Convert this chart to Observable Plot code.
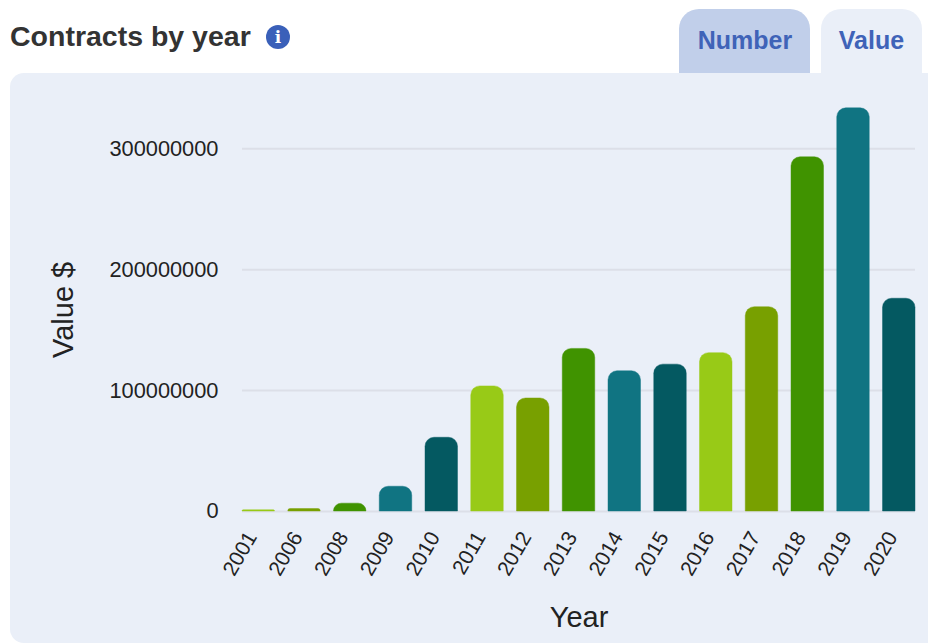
<!DOCTYPE html>
<html>
<head>
<meta charset="utf-8">
<script src="https://cdn.jsdelivr.net/npm/d3@7"></script>
<script src="https://cdn.jsdelivr.net/npm/@observablehq/plot@0.6"></script>
<style>
  html, body { margin: 0; padding: 0; background: #fff; }
  body { width: 928px; height: 643px; overflow: hidden; position: relative; font-family: "Liberation Sans", Arial, sans-serif; }
  .title { position: absolute; left: 10px; top: 20px; font-size: 28.5px; line-height: 32px; font-weight: 700; color: #333; }
  .info { position: absolute; left: 266px; top: 25px; width: 24px; height: 24px; border-radius: 50%; background: #3a60b9; color: #fff; font: 700 17px/24px "DejaVu Serif", serif; text-align: center; }
  .tab { position: absolute; top: 9px; height: 64px; box-sizing: border-box; padding-top: 15px; border-radius: 20px 20px 0 0; text-align: center; font-size: 25px; line-height: 32px; font-weight: 700; color: #3f63b8; }
  .tab.number { left: 679px; width: 131px; background: #c1cfea; padding-left: 1px; }
  .tab.value { left: 821px; width: 101px; background: #eaeff8; }
  .panel { position: absolute; left: 10px; top: 73px; width: 918px; height: 570px; background: #eaeff8; border-radius: 14px 0 0 14px; }
  #chart { position: absolute; left: 0; top: 73px; }
  #chart svg { background: transparent; display: block; }
</style>
</head>
<body>
<div class="title">Contracts by year</div>
<div class="info">i</div>
<div class="tab number">Number</div>
<div class="tab value">Value</div>
<div class="panel"></div>
<div id="chart"></div>
<script>
// Contract value per year, in dollars
const years = ["2001", "2006", "2008", "2009", "2010", "2011", "2012", "2013", "2014", "2015", "2016", "2017", "2018", "2019", "2020"];
const values = [1000000, 2000000, 6500000, 20500000, 61000000, 103500000, 93500000, 134500000, 116000000, 121500000, 131000000, 169000000, 293000000, 333500000, 176000000];
const palette = ["#98ca17", "#78a000", "#409300", "#107482", "#045961"];
const yTicks = [0, 100000000, 200000000, 300000000];

const rows = years.map((year, i) => ({year, value: values[i]}));
const gridColor = "#dcdfe8";

const chart = Plot.plot({
  width: 928,
  height: 570,
  marginLeft: 242,
  marginRight: 13,
  marginTop: 27,
  marginBottom: 132,
  style: {fontFamily: "'Liberation Sans', Arial, sans-serif", fontSize: "21.8px", color: "#222", background: "transparent"},
  x: {domain: years, paddingInner: 0.29, paddingOuter: 0, align: 0.5, round: false},
  y: {domain: [0, 340000000]},
  color: {type: "ordinal", domain: years, range: years.map((_, i) => palette[i % palette.length])},
  marks: [
    Plot.ruleY(yTicks, {stroke: gridColor, strokeWidth: 2, strokeOpacity: 1}),
    Plot.barY(rows, {x: "year", y: "value", fill: "year", stroke: "year", strokeOpacity: 0.45, strokeWidth: 1, rx1y1: 9, rx2y1: 9}),
    Plot.axisY({ticks: yTicks, tickSize: 0, tickPadding: 24, tickFormat: d => String(d), label: null, fontSize: 21.8}),
    Plot.axisX({tickSize: 0, tickPadding: 22, dx: -7, tickRotate: -60, label: null, fontSize: 21}),
    Plot.text(["Value $"], {frameAnchor: "left", dx: -179, dy: 52, rotate: -90, fontSize: 29, fill: "#222"}),
    Plot.text(["Year"], {frameAnchor: "bottom", dx: 0, dy: 115, fontSize: 29, fill: "#222"})
  ]
});
document.getElementById("chart").appendChild(chart);
</script>
</body>
</html>
